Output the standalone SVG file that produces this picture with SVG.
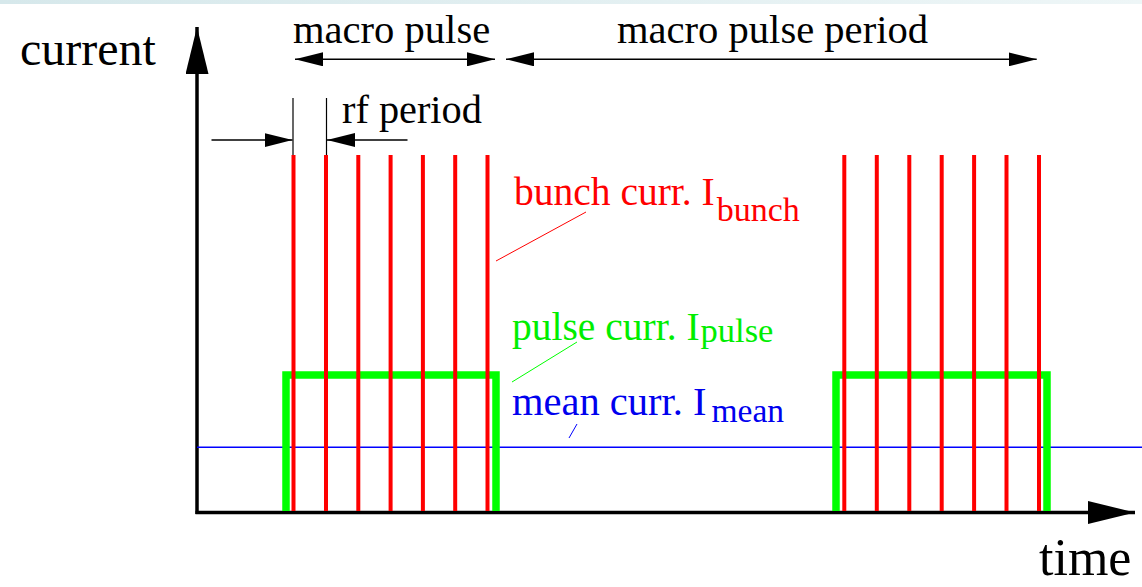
<svg xmlns="http://www.w3.org/2000/svg" width="1142" height="587" viewBox="0 0 1142 587">
<defs>
<linearGradient id="band" x1="0" y1="0" x2="1" y2="0"><stop offset="0" stop-color="#d6e8eb"/><stop offset="1" stop-color="#eef6f7"/></linearGradient>
<marker id="ah" viewBox="0 0 28 14" refX="28" refY="7" markerWidth="28" markerHeight="14" markerUnits="userSpaceOnUse" orient="auto-start-reverse"><path d="M0,0 L28,7 L0,14 Z" fill="#000"/></marker>
<marker id="big" viewBox="0 0 47 23" refX="47" refY="11.5" markerWidth="47" markerHeight="23" markerUnits="userSpaceOnUse" orient="auto"><path d="M0,0 L47,11.5 L0,23 Z" fill="#000"/></marker>
</defs>
<style>
text{font-family:"Liberation Serif","Times New Roman",serif;}
.blk{fill:#000;}
.dim{stroke:#000;stroke-width:1.5;fill:none;}
.bunch{stroke:#ff0000;stroke-width:4;}
.pulse{stroke:#00ff00;stroke-width:7.5;fill:none;}
.lead{stroke-width:1;fill:none;}
</style>
<rect x="0" y="0" width="1142" height="4" fill="url(#band)"/>
<g id="axes">
<line x1="197" y1="514" x2="197" y2="27" stroke="#000" stroke-width="3.5" marker-end="url(#big)"/>
<line x1="195.5" y1="512.5" x2="1135" y2="512.5" stroke="#000" stroke-width="3.5" marker-end="url(#big)"/>
<text x="20" y="65" font-size="48" class="blk">current</text>
<text x="1039" y="575" font-size="52" class="blk">time</text>
</g>
<g id="mean-line"><line x1="197" y1="447.3" x2="1142" y2="447.3" stroke="#0000ff" stroke-width="1.5"/></g>
<g id="pulse1"><path class="pulse" d="M286,511 V375 H496 V511"/></g>
<g id="pulse2"><path class="pulse" d="M836,511 V375 H1047 V511"/></g>
<g id="bunches1">
<line class="bunch" x1="293.5" y1="155" x2="293.5" y2="511"/>
<line class="bunch" x1="326" y1="155" x2="326" y2="511"/>
<line class="bunch" x1="358.3" y1="155" x2="358.3" y2="511"/>
<line class="bunch" x1="390.6" y1="155" x2="390.6" y2="511"/>
<line class="bunch" x1="422.9" y1="155" x2="422.9" y2="511"/>
<line class="bunch" x1="455.2" y1="155" x2="455.2" y2="511"/>
<line class="bunch" x1="487.5" y1="155" x2="487.5" y2="511"/>
</g>
<g id="bunches2">
<line class="bunch" x1="844.3" y1="155" x2="844.3" y2="511"/>
<line class="bunch" x1="876.8" y1="155" x2="876.8" y2="511"/>
<line class="bunch" x1="909.3" y1="155" x2="909.3" y2="511"/>
<line class="bunch" x1="941.7" y1="155" x2="941.7" y2="511"/>
<line class="bunch" x1="974.1" y1="155" x2="974.1" y2="511"/>
<line class="bunch" x1="1006.5" y1="155" x2="1006.5" y2="511"/>
<line class="bunch" x1="1039" y1="155" x2="1039" y2="511"/>
</g>
<g id="connectors">
<line class="dim" x1="295" y1="59.3" x2="495" y2="59.3" marker-start="url(#ah)" marker-end="url(#ah)"/>
<line class="dim" x1="506" y1="59.3" x2="1036.7" y2="59.3" marker-start="url(#ah)" marker-end="url(#ah)"/>
<line x1="293" y1="98" x2="293" y2="155" stroke="#000" stroke-width="1.2"/>
<line x1="326.5" y1="98" x2="326.5" y2="155" stroke="#000" stroke-width="1.2"/>
<line class="dim" x1="211.5" y1="140" x2="292.5" y2="140" marker-end="url(#ah)"/>
<line class="dim" x1="407.5" y1="140" x2="327" y2="140" marker-end="url(#ah)"/>
<line class="lead" stroke="#ff0000" x1="496" y1="261" x2="586" y2="212"/>
<line class="lead" stroke="#00ff00" x1="512" y1="382" x2="577" y2="342"/>
<line class="lead" stroke="#0000ff" x1="569" y1="438" x2="577" y2="424"/>
</g>
<g id="labels">
<text x="293" y="42.7" font-size="40.6" class="blk">macro pulse</text>
<text x="617" y="42.7" font-size="40.6" class="blk">macro pulse period</text>
<text x="342" y="122.5" font-size="40.3" class="blk">rf period</text>
<text x="514" y="205" font-size="39.5" fill="#ff0000">bunch curr. I<tspan font-size="34" dy="16" dx="2">bunch</tspan></text>
<text x="512" y="340" font-size="39.5" fill="#00ee00">pulse curr. I<tspan font-size="34.5" dy="2" dx="1">pulse</tspan></text>
<text x="512" y="415" font-size="40.5" fill="#0000ee">mean curr. I<tspan font-size="33.5" dy="7" dx="5">mean</tspan></text>
</g>
</svg>
